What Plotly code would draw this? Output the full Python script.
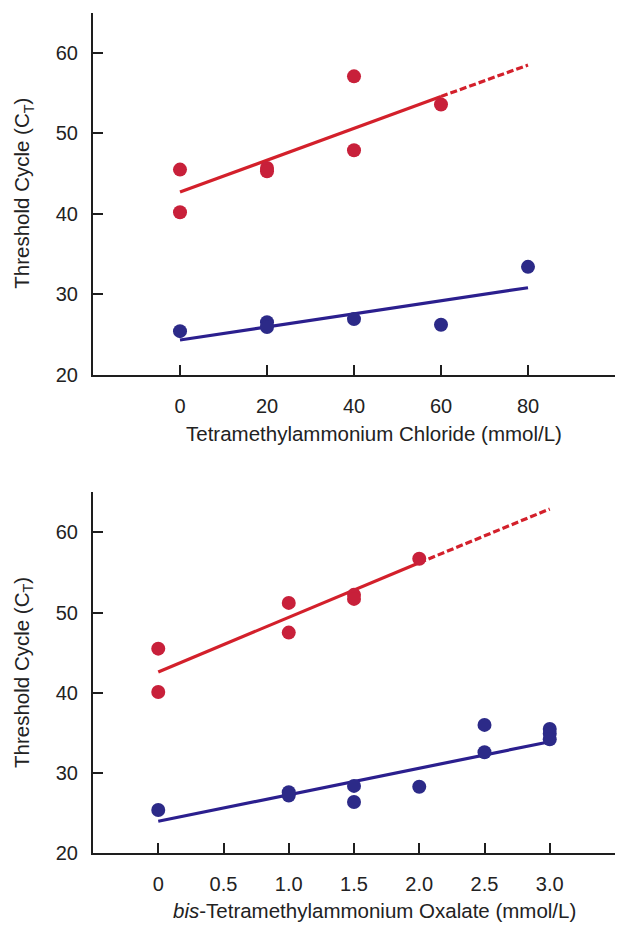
import plotly.graph_objects as go

# ---------------- data ----------------
# Top panel: Tetramethylammonium Chloride (mmol/L)
tmac_red_x = [0, 0, 20, 20, 40, 40, 60]
tmac_red_y = [45.5, 40.2, 45.7, 45.3, 57.1, 47.9, 53.6]
tmac_blue_x = [0, 20, 20, 40, 60, 80]
tmac_blue_y = [25.4, 26.5, 25.9, 26.9, 26.2, 33.4]
tmac_red_fit_x = [0, 60]
tmac_red_fit_y = [42.7, 54.6]
tmac_red_ext_x = [60, 80]
tmac_red_ext_y = [54.6, 58.5]
tmac_blue_fit_x = [0, 80]
tmac_blue_fit_y = [24.3, 30.8]
tmac_tickvals = [0, 20, 40, 60, 80]
tmac_ticktext = ["0", "20", "40", "60", "80"]

# Bottom panel: bis-Tetramethylammonium Oxalate (mmol/L)
tmao_red_x = [0, 0, 1.0, 1.0, 1.5, 1.5, 2.0]
tmao_red_y = [45.5, 40.1, 51.2, 47.5, 52.2, 51.7, 56.7]
tmao_blue_x = [0, 1.0, 1.0, 1.5, 1.5, 2.0, 2.5, 2.5, 3.0, 3.0, 3.0]
tmao_blue_y = [25.4, 27.6, 27.2, 28.4, 26.4, 28.3, 36.0, 32.6, 35.5, 34.9, 34.2]
tmao_red_fit_x = [0, 2.0]
tmao_red_fit_y = [42.6, 56.2]
tmao_red_ext_x = [2.0, 3.0]
tmao_red_ext_y = [56.2, 62.9]
tmao_blue_fit_x = [0, 3.0]
tmao_blue_fit_y = [24.0, 33.9]
tmao_tickvals = [0, 0.5, 1.0, 1.5, 2.0, 2.5, 3.0]
tmao_ticktext = ["0", "0.5", "1.0", "1.5", "2.0", "2.5", "3.0"]

y_tickvals = [20, 30, 40, 50, 60]

# ---------------- style ----------------
RED_M = "#c8203a"
RED_L = "#d3202b"
BLUE_M = "#2c2a88"
BLUE_L = "#2b1f8e"
AX = "#1e1e1e"
TXT = "#222222"
FONT = "Liberation Sans, Arial, sans-serif"
MS = 14
LW = 3.2

fig = go.Figure()


def add_panel(xa, ya, rx, ry, bx, by, rfx, rfy, rex, rey, bfx, bfy):
    fig.add_trace(go.Scatter(x=rfx, y=rfy, mode="lines", xaxis=xa, yaxis=ya,
                             line=dict(color=RED_L, width=LW), showlegend=False))
    fig.add_trace(go.Scatter(x=rex, y=rey, mode="lines", xaxis=xa, yaxis=ya,
                             line=dict(color=RED_L, width=LW, dash="7px,3px"),
                             showlegend=False))
    fig.add_trace(go.Scatter(x=bfx, y=bfy, mode="lines", xaxis=xa, yaxis=ya,
                             line=dict(color=BLUE_L, width=LW), showlegend=False))
    fig.add_trace(go.Scatter(x=rx, y=ry, mode="markers", xaxis=xa, yaxis=ya,
                             marker=dict(color=RED_M, size=MS, line=dict(width=0)),
                             showlegend=False))
    fig.add_trace(go.Scatter(x=bx, y=by, mode="markers", xaxis=xa, yaxis=ya,
                             marker=dict(color=BLUE_M, size=MS, line=dict(width=0)),
                             showlegend=False))


add_panel("x", "y", tmac_red_x, tmac_red_y, tmac_blue_x, tmac_blue_y,
          tmac_red_fit_x, tmac_red_fit_y, tmac_red_ext_x, tmac_red_ext_y,
          tmac_blue_fit_x, tmac_blue_fit_y)
add_panel("x2", "y2", tmao_red_x, tmao_red_y, tmao_blue_x, tmao_blue_y,
          tmao_red_fit_x, tmao_red_fit_y, tmao_red_ext_x, tmao_red_ext_y,
          tmao_blue_fit_x, tmao_blue_fit_y)

W, H = 617, 933
xdom = [93 / W, 615 / W]
ydom_top = [1 - 379 / H, 1 - 13 / H]
ydom_bot = [1 - 863.5 / H, 1 - 498 / H]

common_x = dict(showline=True, linecolor=AX, linewidth=2, ticks="inside",
                ticklen=10, tickwidth=2, tickcolor=AX, showgrid=False,
                zeroline=False, tickfont=dict(size=20, color=TXT, family=FONT),
                ticklabelstandoff=12, fixedrange=True)
common_y = dict(showline=True, linecolor=AX, linewidth=2, ticks="inside",
                ticklen=10, tickwidth=2, tickcolor=AX, showgrid=False,
                zeroline=False, tickfont=dict(size=20, color=TXT, family=FONT),
                ticklabelstandoff=9, range=[20, 65], tickmode="array",
                tickvals=y_tickvals, ticktext=[str(v) for v in y_tickvals],
                fixedrange=True)

fig.update_layout(
    width=W, height=H,
    margin=dict(l=0, r=0, t=0, b=0),
    paper_bgcolor="white", plot_bgcolor="white",
    font=dict(family=FONT, color=TXT, size=20),
    xaxis=dict(common_x, domain=xdom, anchor="y", range=[-20, 100],
               tickmode="array", tickvals=tmac_tickvals, ticktext=tmac_ticktext),
    yaxis=dict(common_y, domain=ydom_top, anchor="x"),
    xaxis2=dict(common_x, domain=xdom, anchor="y2", range=[-0.5, 3.5],
                tickmode="array", tickvals=tmao_tickvals, ticktext=tmao_ticktext),
    yaxis2=dict(common_y, domain=ydom_bot, anchor="x2"),
    showlegend=False,
)

ytitle = "Threshold Cycle (C<sub>T</sub>)"
ann = [
    dict(text="Tetramethylammonium Chloride (mmol/L)", x=374 / W, y=1 - 439 / H),
    dict(text="<i>bis</i>-Tetramethylammonium Oxalate (mmol/L)", x=374 / W, y=1 - 921 / H),
    dict(text=ytitle, x=23 / W, y=1 - 196 / H, textangle=-90),
    dict(text=ytitle, x=23 / W, y=1 - 681 / H, textangle=-90),
]
for a in ann:
    fig.add_annotation(xref="paper", yref="paper", showarrow=False,
                       xanchor="center", yanchor="middle",
                       font=dict(size=20.5, color=TXT, family=FONT), **a)

fig.write_html("out.html")
